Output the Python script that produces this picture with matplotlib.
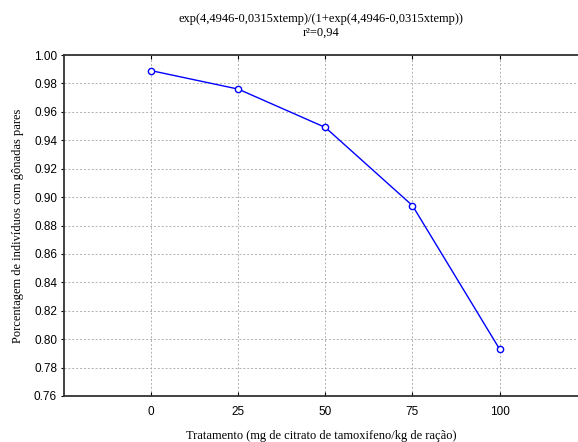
import numpy as np
import matplotlib.pyplot as plt

# tratamento (mg/kg) e proporcao observada
doses = [0, 25, 50, 75, 100]
prop = [0.989, 0.976, 0.949, 0.894, 0.793]
yticks = [0.76, 0.78, 0.80, 0.82, 0.84, 0.86, 0.88, 0.90, 0.92, 0.94, 0.96, 0.98, 1.00]

serif = ['Liberation Serif', 'DejaVu Serif']
sans = ['Liberation Sans', 'DejaVu Sans']

fig = plt.figure(figsize=(5.78, 4.42), dpi=100)
ax = fig.add_axes([64/578, 46/442, 1 - 64/578, 341/442])

ax.plot(doses, prop, color='#0000ff', lw=1.0, marker='o', ms=4.5,
        mfc='white', mec='#0000ff', mew=1.0, zorder=3)

ax.set_xlim(-25, 122.5)
ax.set_ylim(0.76, 1.00)
ax.set_xticks(doses)
ax.set_yticks(yticks)
ax.set_yticklabels(["%.2f" % v for v in yticks])
ax.grid(True, color='#b0b0b0', ls=(0, (2, 2)), lw=0.7)
ax.tick_params(axis='x', direction='in', length=3, top=True, pad=7, labelsize=8.5)
ax.tick_params(axis='y', direction='out', length=2, pad=3, labelsize=8.5)
for lab in ax.get_xticklabels() + ax.get_yticklabels():
    lab.set_family(sans)

for s in ['left', 'bottom', 'top']:
    ax.spines[s].set_linewidth(1.3)
    ax.spines[s].set_color('#333333')
ax.spines['right'].set_visible(False)

ax.set_xlabel('Tratamento (mg de citrato de tamoxifeno/kg de ração)',
              family=serif, fontsize=9, labelpad=9)
ax.set_ylabel('Porcentagem de indivíduos com gônadas pares',
              family=serif, fontsize=9, labelpad=7)

fig.text(321/578, 1 - 19/442, 'exp(4,4946-0,0315xtemp)/(1+exp(4,4946-0,0315xtemp))',
         ha='center', va='center', family=serif, fontsize=9)
fig.text(321/578, 1 - 33/442, 'r²=0,94', ha='center', va='center',
         family=serif, fontsize=9)

plt.savefig('out.png', dpi=100)
